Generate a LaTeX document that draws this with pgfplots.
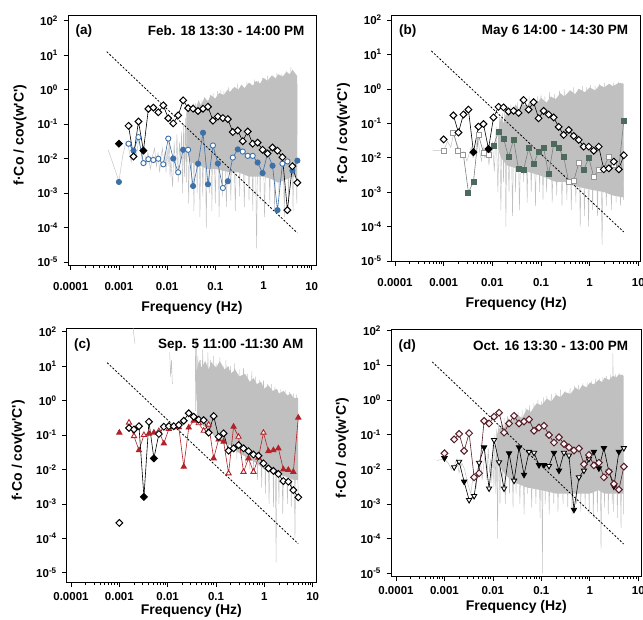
\documentclass[border=0pt]{standalone}
\usepackage{fontspec}
\setmainfont{Liberation Sans}
\newfontfamily\labfont{Liberation Sans}
\usepackage{pgfplots}
\usepackage{pgfplotstable}
\pgfplotsset{compat=1.18}

\definecolor{specgray}{RGB}{192,192,192}
\definecolor{blueA}{RGB}{62,112,168}
\definecolor{greenB}{RGB}{78,106,92}
\definecolor{sqline}{RGB}{120,130,125}
\definecolor{sqopen}{RGB}{150,150,150}
\definecolor{redC}{RGB}{178,34,40}
\definecolor{maroonD}{RGB}{84,30,40}
\definecolor{pinkD}{RGB}{252,244,244}

% square diamond and downward triangle marks
\pgfdeclareplotmark{dia*}{%
  \pgfpathmoveto{\pgfqpoint{0pt}{\pgfplotmarksize}}%
  \pgfpathlineto{\pgfqpoint{\pgfplotmarksize}{0pt}}%
  \pgfpathlineto{\pgfqpoint{0pt}{-\pgfplotmarksize}}%
  \pgfpathlineto{\pgfqpoint{-\pgfplotmarksize}{0pt}}%
  \pgfpathclose\pgfusepathqfillstroke}
\pgfdeclareplotmark{tridown*}{%
  \pgfpathmoveto{\pgfqpoint{0pt}{-\pgfplotmarksize}}%
  \pgfpathlineto{\pgfqpoint{0.866\pgfplotmarksize}{0.5\pgfplotmarksize}}%
  \pgfpathlineto{\pgfqpoint{-0.866\pgfplotmarksize}{0.5\pgfplotmarksize}}%
  \pgfpathclose\pgfusepathqfillstroke}

\pgfplotsset{
  panel/.style={
    scale only axis,
    axis line style={line width=0.8pt},
    tick align=outside, xtick pos=left, ytick pos=left,
    major tick length=4.5pt, minor tick length=2.5pt,
    every tick/.style={black, line width=0.7pt},
    xtick={1e-4,1e-3,1e-2,1e-1,1,10},
    xticklabels={0.0001,0.001,0.01,0.1,1,10},
    minor xtick={2e-4,3e-4,4e-4,5e-4,6e-4,7e-4,8e-4,9e-4,
      2e-3,3e-3,4e-3,5e-3,6e-3,7e-3,8e-3,9e-3,
      0.02,0.03,0.04,0.05,0.06,0.07,0.08,0.09,
      0.2,0.3,0.4,0.5,0.6,0.7,0.8,0.9,2,3,4,5,6,7,8,9},
    ytick={1e-5,1e-4,1e-3,1e-2,1e-1,1,10,100},
    yticklabels={10\textsuperscript{-5},10\textsuperscript{-4},10\textsuperscript{-3},
      10\textsuperscript{-2},10\textsuperscript{-1},10\textsuperscript{0},
      10\textsuperscript{1},10\textsuperscript{2}},
    yminorticks=false,
    ticklabel style={font=\bfseries\fontsize{11.5}{13}\selectfont},
    yticklabel shift=2pt,
    label style={font=\bfseries\fontsize{14}{16}\selectfont},
    xlabel={Frequency (Hz)},
    ylabel={{\labfont f·Co / cov(w'C')}},
    ylabel style={at={(axis description cs:-0.194,0.52)}, anchor=center},
    unbounded coords=jump,
  },
  toprow/.style={xticklabel shift=9pt,
    xlabel style={at={(axis description cs:0.5,-0.172)}, anchor=center}},
  botrow/.style={xticklabel shift=1.5pt,
    xlabel style={at={(axis description cs:0.5,-#1)}, anchor=center}},
  spec/.style={specgray, line width=0.45pt, forget plot},
  specfill/.style={draw=none, fill=specgray, forget plot},
  slope/.style={black, line width=0.8pt, dash pattern=on 2pt off 1.7pt},
  dia/.style={black, line width=0.6pt, mark size=3.4pt, scatter, scatter src=explicit symbolic,
    scatter/classes={o={mark=dia*, fill=white, draw=black, line width=1pt},
                     f={mark=dia*, fill=black, draw=black, line width=1pt}}},
}
\tikzset{ptitle/.style={font=\bfseries\fontsize{13.5}{15}\selectfont}}

% panel (a)
\pgfplotstableread{
f v c
0.001 0.027 f
nan nan o
0.001585 0.089 o
0.002009 0.0115 o
0.002547 0.119 o
0.003228 0.017 f
0.004093 0.277 o
0.005188 0.30 o
0.006577 0.22 o
0.008337 0.35 o
0.01057 0.148 o
0.01340 0.105 o
0.01698 0.18 o
0.02153 0.49 o
0.02729 0.29 o
0.03459 0.28 o
0.04385 0.24 o
0.05559 0.28 o
0.07047 0.32 o
0.08933 0.126 o
0.1132 0.166 o
0.1435 0.15 o
0.1820 0.14 o
0.2307 0.059 o
0.2924 0.065 o
0.3707 0.032 o
0.4699 0.061 o
0.5957 0.027 o
0.7551 0.029 o
0.9572 0.018 o
1.213 0.014 o
1.538 0.021 o
1.950 0.017 o
2.472 0.011 o
3.133 0.00032 o
3.972 0.006 o
5.035 0.002 o
}\aDia
\pgfplotstableread{
f v c
0.001 0.0021 f
nan nan o
0.001585 0.027 o
0.002009 0.017 f
0.002547 0.042 o
0.003228 0.0074 o
0.004093 0.0096 o
0.005188 0.0091 o
0.006577 0.0099 o
0.008337 0.0068 o
0.01057 0.038 o
0.01340 0.010 f
0.01698 0.0040 o
0.02153 0.018 f
0.02729 0.018 o
0.03459 0.0016 f
0.04385 0.0071 f
0.05559 0.056 f
0.07047 0.0018 f
0.08933 0.024 o
0.1132 0.0072 f
0.1435 0.0014 o
0.1820 0.0022 f
0.2307 0.0107 o
0.2924 0.0185 f
0.3707 0.016 o
0.4699 0.012 o
0.5957 0.012 o
0.7551 0.0077 f
0.9572 0.0038 f
1.213 0.014 o
1.538 0.0062 f
1.950 0.00032 f
2.472 0.0071 o
3.133 0.0083 o
3.972 0.0045 f
5.035 0.0087 f
}\aCirc

% panel (b)
\pgfplotstableread{
f v c
0.001 0.034 o
nan nan o
0.001585 0.17 o
0.002009 0.054 o
0.002547 0.18 o
0.003228 0.25 o
0.004093 0.0145 f
0.005188 0.080 o
0.006577 0.095 o
0.008337 0.018 f
0.01057 0.148 o
0.01340 0.30 o
0.01698 0.29 o
0.02153 0.22 o
0.02729 0.23 o
0.03459 0.20 o
0.04385 0.475 o
0.05559 0.25 o
0.07047 0.41 o
0.08933 0.14 o
0.1132 0.23 o
0.1435 0.18 o
0.1820 0.148 o
0.2307 0.079 o
0.2924 0.046 o
0.3707 0.064 o
0.4699 0.043 o
0.5957 0.033 o
0.7551 0.021 o
0.9572 0.021 o
1.213 0.016 o
1.538 0.021 o
1.950 0.0046 o
2.472 0.0049 o
3.133 0.0077 o
3.972 0.0046 o
5.035 0.0118 o
}\bDia
\pgfplotstableread{
f v c
0.001 0.016 o
nan nan o
0.001585 0.054 o
0.002009 0.016 o
0.002547 0.012 o
0.003228 0.00098 f
0.004093 0.0020 f
0.005188 0.046 o
0.006577 0.014 o
0.008337 0.012 o
0.01057 0.0225 f
0.01340 0.057 f
0.01698 0.036 f
0.02153 0.0107 f
0.02729 0.033 f
0.03459 0.0046 f
0.04385 0.0044 f
0.05559 0.0186 f
0.07047 0.0065 f
0.08933 0.015 f
0.1132 0.0195 f
0.1435 0.0033 f
0.1820 0.0245 f
0.2307 0.0186 f
0.2924 0.0107 f
0.3707 0.0020 o
0.4699 0.0021 o
0.5957 0.0069 o
0.7551 0.0044 f
0.9572 0.010 f
1.213 0.0028 o
1.538 0.0045 o
1.950 0.005 o
2.472 0.0107 o
3.133 0.006 o
3.972 0.005 o
5.035 0.117 f
}\bSq

% panel (c)
\pgfplotstableread{
f v c
0.001 0.00028 o
nan nan o
0.001585 0.16 o
0.002009 0.145 o
0.002547 0.18 o
0.003228 0.0016 f
0.004093 0.243 o
0.005188 0.021 f
0.006577 0.107 o
0.008337 0.174 o
0.01057 0.18 o
0.01340 0.18 o
0.01698 0.195 o
0.02153 0.26 o
0.02729 0.43 o
0.03459 0.34 o
0.04385 0.28 o
0.05559 0.27 o
0.07047 0.117 o
0.08933 0.355 o
0.1132 0.089 o
0.1435 0.112 o
0.1820 0.035 o
0.2307 0.041 o
0.2924 0.051 o
0.3707 0.041 o
0.4699 0.034 o
0.5957 0.027 o
0.7551 0.025 o
0.9572 0.015 o
1.213 0.0107 o
1.538 0.0091 o
1.950 0.0074 o
2.472 0.0046 o
3.133 0.0044 o
3.972 0.0025 o
5.035 0.00155 o
}\cDia
\pgfplotstableread{
f v c
0.001 0.117 f
nan nan o
0.001585 0.23 o
0.002009 0.093 o
0.002547 0.036 f
0.003228 0.10 o
0.004093 0.11 f
0.005188 0.117 f
0.006577 0.13 o
0.008337 0.057 f
0.01057 0.15 o
0.01340 0.17 o
0.01698 0.17 o
0.02153 0.012 f
0.02729 0.165 f
0.03459 0.26 f
0.04385 0.22 o
0.05559 0.133 o
0.07047 0.2 o
0.08933 0.021 f
0.1132 0.074 f
0.1435 0.064 f
0.1820 0.0077 o
0.2307 0.174 f
0.2924 0.089 o
0.3707 0.0085 o
0.4699 0.021 f
0.5957 0.0085 o
0.7551 0.022 f
0.9572 0.117 o
1.213 0.034 f
1.538 0.036 f
1.950 0.041 f
2.472 0.010 f
3.133 0.0097 f
3.972 0.0085 f
5.035 0.32 f
}\cTri

% panel (d)
\pgfplotstableread{
f v c
0.001 0.029 o
nan nan o
0.001585 0.073 o
0.002009 0.105 o
0.002547 0.034 o
0.003228 0.11 o
0.004093 0.0059 o
0.005188 0.0077 o
0.006577 0.25 o
0.008337 0.21 o
0.01057 0.33 o
0.01340 0.43 o
0.01698 0.115 o
0.02153 0.21 o
0.02729 0.35 o
0.03459 0.21 o
0.04385 0.24 o
0.05559 0.275 o
0.07047 0.13 o
0.08933 0.16 o
0.1132 0.18 o
0.1435 0.098 o
0.1820 0.059 o
0.2307 0.084 o
0.2924 0.054 o
0.3707 0.043 o
0.4699 0.035 o
0.5957 0.04 o
0.7551 0.014 o
0.9572 0.026 o
1.213 0.013 o
1.538 0.0155 o
1.950 0.0059 o
2.472 0.0086 o
3.133 0.0038 o
3.972 0.0026 o
5.035 0.012 o
}\dDia
\pgfplotstableread{
f v c
0.001 0.021 f
nan nan o
0.001585 0.0115 o
0.002009 0.0166 o
0.002547 0.0044 f
0.003228 0.0013 o
0.004093 0.0017 o
0.005188 0.0155 o
0.006577 0.043 f
0.008337 0.0028 o
0.01057 0.070 o
0.01340 0.016 o
0.01698 0.0028 o
0.02153 0.029 f
0.02729 0.0047 o
0.03459 0.043 f
0.04385 0.007 f
0.05559 0.032 o
0.07047 0.03 o
0.08933 0.0133 f
0.1132 0.0133 f
0.1435 0.0125 o
0.1820 0.030 f
0.2307 0.0092 f
0.2924 0.03 o
0.3707 0.025 o
0.4699 0.00068 f
0.5957 0.0059 o
0.7551 0.0092 o
0.9572 0.02 o
1.213 0.032 f
1.538 0.0107 f
1.950 0.041 f
2.472 0.0086 f
3.133 0.0032 f
3.972 0.032 f
5.035 0.041 o
}\dTri

\begin{document}
\begin{tikzpicture}
\useasboundingbox (0,0) rectangle (643pt,-619pt);

% ---------------- (a)
\begin{loglogaxis}[panel, toprow, at={(68pt,-265pt)}, anchor=south west, width=248pt, height=250pt,
  xmin=8.79e-5, xmax=12.27, ymin=8.18e-6, ymax=146.2]
\addplot[specfill] coordinates {(0.025,0.2)(0.027,0.35)(0.03,0.25)(0.035,0.4)(0.04,0.3)(0.045,0.5)(0.05,0.35)(0.06,0.6)(0.07,0.45)(0.08,0.7)(0.1,0.55)(0.12,0.8)(0.15,0.7)(0.18,1.0)(0.2,0.85)(0.25,1.2)(0.3,1.0)(0.35,1.4)(0.4,1.1)(0.5,1.6)(0.6,1.3)(0.7,1.8)(0.85,1.5)(1,2.2)(1.2,1.8)(1.5,2.6)(1.8,2.1)(2,2.8)(2.5,2.4)(3,3.3)(3.5,2.8)(4,3.8)(4.5,3)(5,2.5)
  (5,0.003)(4,0.003)(3,0.0025)(2,0.002)(1.5,0.0025)(1,0.003)(0.7,0.003)(0.5,0.003)(0.3,0.004)(0.2,0.004)(0.1,0.005)(0.07,0.005)(0.05,0.006)(0.03,0.008)(0.025,0.02)};
\addplot[spec] coordinates {(0.0006,0.018)(0.001,0.0022)(0.0012,0.012)(0.0014,0.03)(0.0016,0.02)(0.0018,0.008)(0.002,0.02)(0.0023,0.012)(0.0026,0.04)(0.003,0.01)(0.0033,0.02)(0.0037,0.007)(0.004,0.015)(0.0045,0.005)(0.005,0.012)(0.0055,0.02)(0.006,0.006)(0.0065,0.015)(0.007,0.004)(0.0075,0.012)(0.008,0.02)(0.0085,0.006)(0.009,0.015)(0.0095,0.004)(0.01,0.02)(0.0105,0.006)(0.011,0.04)(0.0115,0.003)(0.012,0.01)(0.013,0.0015)(0.014,0.03)(0.015,0.004)(0.016,0.05)(0.017,0.002)(0.018,0.03)(0.019,0.008)(0.02,0.06)(0.021,0.001)(0.022,0.1)(0.023,0.003)(0.024,0.15)(0.025,0.002)(0.026,0.25)(0.028,0.0005)(0.03,0.3)(0.032,0.002)(0.034,0.25)(0.036,0.0003)(0.039,0.4)(0.042,0.001)(0.045,0.3)(0.048,0.0002)(0.051,0.5)(0.055,0.0008)(0.06,0.6)(0.065,0.0001)(0.07,0.5)(0.075,0.001)(0.08,0.7)(0.085,0.0003)(0.09,0.8)(0.1,0.0005)(0.11,0.9)(0.12,0.0002)(0.13,1.0)(0.14,0.0008)(0.15,0.9)(0.17,0.0004)(0.19,1.2)(0.21,0.0006)(0.23,1.1)(0.26,0.0003)(0.29,1.5)(0.32,0.0008)(0.35,1.3)(0.4,0.0004)(0.45,1.7)(0.5,0.0006)(0.55,1.5)(0.6,0.0003)(0.65,2.0)(0.72,0.000025)(0.78,1.8)(0.85,0.0006)(0.95,2.2)(1.05,0.0002)(1.2,2.5)(1.35,0.0005)(1.5,2.2)(1.7,0.0003)(1.9,3.0)(2.1,0.0008)(2.4,2.8)(2.7,0.0002)(3.0,3.5)(3.3,0.0005)(3.7,4.5)(4.1,0.0003)(4.5,3.0)(4.9,0.0005)(5.0,1.5)};
\addplot[slope] coordinates {(5.6e-4,12.6)(5.0,7e-5)};
\addplot[blueA, line width=0.6pt, mark size=2.6pt, scatter, scatter src=explicit symbolic,
  scatter/classes={o={mark=*, fill=white, draw=blueA, line width=0.9pt},
                   f={mark=*, fill=blueA, draw=blueA, line width=0.9pt}}]
  table[x=f, y=v, meta=c] {\aCirc};
\addplot[dia] table[x=f, y=v, meta=c] {\aDia};
\node[ptitle, anchor=west, xshift=4pt, yshift=-16pt] at (rel axis cs:0,1) {(a)};
\node[ptitle, anchor=east, xshift=-8pt, yshift=-16pt] at (rel axis cs:1,1) {Feb. 18 13:30 - 14:00 PM};
\end{loglogaxis}

% ---------------- (b)
\begin{loglogaxis}[panel, toprow, at={(391.7pt,-261.7pt)}, anchor=south west, width=249pt, height=246.7pt,
  xmin=8.55e-5, xmax=11.19, ymin=9.55e-6, ymax=139.6]
\addplot[specfill] coordinates {(0.013,0.05)(0.015,0.15)(0.017,0.1)(0.02,0.25)(0.025,0.2)(0.03,0.35)(0.035,0.25)(0.04,0.4)(0.05,0.3)(0.06,0.45)(0.08,0.35)(0.1,0.55)(0.13,0.4)(0.16,0.6)(0.2,0.5)(0.25,0.75)(0.3,0.6)(0.4,0.9)(0.5,0.7)(0.6,1.0)(0.8,0.8)(1,1.1)(1.3,0.9)(1.6,1.3)(2,1.1)(2.5,1.4)(3,1.2)(4,1.5)(5,1.4)
  (5,0.0007)(3,0.0008)(2,0.001)(1,0.0012)(0.5,0.0015)(0.3,0.002)(0.2,0.002)(0.1,0.003)(0.05,0.004)(0.03,0.005)(0.02,0.006)(0.015,0.01)(0.013,0.02)};
\addplot[spec] coordinates {(0.0006,0.016)(0.001,0.016)(0.0012,0.03)(0.0014,0.02)(0.0016,0.05)(0.0018,0.03)(0.002,0.02)(0.0023,0.01)(0.0026,0.015)(0.003,0.008)(0.0033,0.012)(0.0037,0.02)(0.004,0.01)(0.0045,0.015)(0.005,0.04)(0.0055,0.015)(0.006,0.008)(0.0065,0.02)(0.007,0.01)(0.0075,0.012)(0.008,0.02)(0.0085,0.006)(0.009,0.015)(0.0095,0.01)(0.01,0.03)(0.011,0.004)(0.012,0.08)(0.013,0.001)(0.014,0.15)(0.015,0.0003)(0.016,0.2)(0.017,0.002)(0.018,0.25)(0.019,0.0001)(0.02,0.3)(0.022,0.001)(0.024,0.35)(0.026,0.0002)(0.028,0.3)(0.03,0.001)(0.033,0.4)(0.036,0.0003)(0.04,0.5)(0.044,0.002)(0.048,0.4)(0.052,0.0005)(0.057,0.6)(0.063,0.001)(0.07,0.5)(0.077,0.0004)(0.085,0.6)(0.094,0.001)(0.1,0.7)(0.11,0.0006)(0.12,0.6)(0.13,0.001)(0.15,0.8)(0.17,0.0005)(0.19,0.7)(0.21,0.0008)(0.24,0.9)(0.27,0.0004)(0.3,1.0)(0.34,0.0006)(0.38,0.9)(0.42,0.0003)(0.47,1.1)(0.52,0.0005)(0.58,1.0)(0.64,0.0001)(0.71,1.2)(0.78,0.0002)(0.86,1.1)(0.95,0.0001)(1.05,1.3)(1.15,0.0003)(1.3,1.2)(1.45,0.0002)(1.6,1.4)(1.8,0.00003)(2.0,1.5)(2.2,0.0004)(2.5,1.4)(2.8,0.0003)(3.1,1.5)(3.5,0.0005)(3.9,1.6)(4.3,0.0004)(4.7,1.5)(5.0,0.0006)};
\addplot[slope] coordinates {(5.6e-4,12.6)(5.0,7e-5)};
\addplot[sqline, line width=0.6pt, mark size=2.5pt, scatter, scatter src=explicit symbolic,
  scatter/classes={o={mark=square*, fill=white, draw=sqopen, line width=0.9pt},
                   f={mark=square*, fill=greenB, draw=greenB, line width=0.9pt}}]
  table[x=f, y=v, meta=c] {\bSq};
\addplot[dia] table[x=f, y=v, meta=c] {\bDia};
\node[ptitle, anchor=west, xshift=4pt, yshift=-16pt] at (rel axis cs:0,1) {(b)};
\node[ptitle, anchor=east, xshift=-9pt, yshift=-16pt] at (rel axis cs:1,1) {May 6 14:00 - 14:30 PM};
\end{loglogaxis}

% ---------------- (c)
\begin{loglogaxis}[panel, botrow=0.11, at={(66.7pt,-582.7pt)}, anchor=south west, width=249.3pt, height=254.4pt,
  xmin=8.15e-5, xmax=11.70, ymin=5.13e-6, ymax=125.6]
\addplot[specfill] coordinates {(0.04,8)(0.045,15)(0.05,9)(0.06,14)(0.07,8)(0.08,13)(0.1,9)(0.12,14)(0.15,8)(0.18,10)(0.2,6)(0.25,8)(0.3,5)(0.4,6)(0.5,3.5)(0.6,4.5)(0.7,3)(0.85,3.5)(1,2.2)(1.2,2.8)(1.5,1.9)(1.8,2.2)(2,1.6)(2.5,1.9)(3,1.4)(3.5,1.6)(4,1.2)(5,1.2)
  (5,0.005)(4,0.005)(3,0.006)(2,0.007)(1.5,0.008)(1,0.01)(0.7,0.015)(0.5,0.02)(0.3,0.03)(0.2,0.05)(0.1,0.08)(0.07,0.15)(0.05,0.2)(0.04,0.4)};
\addplot[spec] coordinates {(0.0019,150)(0.0021,45)(0.003,nan)(0.011,25)(0.0115,5)(0.012,15)(0.0125,3)(0.013,nan)(0.037,60)(0.038,0.5)(0.039,70)(0.04,1)(0.042,20)(0.045,0.3)(0.048,15)(0.05,0.5)(0.053,30)(0.056,0.2)(0.06,12)(0.064,0.3)(0.068,25)(0.072,0.2)(0.077,15)(0.082,0.15)(0.088,20)(0.094,0.1)(0.1,12)(0.11,0.1)(0.12,18)(0.13,0.07)(0.14,10)(0.15,0.05)(0.16,15)(0.18,0.03)(0.2,10)(0.22,0.04)(0.24,12)(0.27,0.02)(0.3,8)(0.33,0.03)(0.37,9)(0.41,0.015)(0.45,6)(0.5,0.01)(0.55,7)(0.6,0.008)(0.66,5)(0.72,0.005)(0.8,4)(0.88,0.003)(0.96,4)(1.05,0.002)(1.15,3)(1.25,0.001)(1.4,3)(1.55,0.0008)(1.65,2.5)(1.75,0.00002)(1.85,2)(2.0,0.001)(2.2,2.2)(2.4,0.0005)(2.7,2)(3.0,0.001)(3.3,1.8)(3.6,0.0008)(4.0,1.6)(4.3,0.0001)(4.6,1.5)(5.0,0.002)};
\addplot[slope] coordinates {(5.6e-4,12.6)(5.0,7e-5)};
\addplot[redC, line width=0.6pt, mark size=3pt, scatter, scatter src=explicit symbolic,
  scatter/classes={o={mark=triangle*, fill=white, draw=redC, line width=0.9pt},
                   f={mark=triangle*, fill=redC, draw=redC, line width=0.9pt}}]
  table[x=f, y=v, meta=c] {\cTri};
\addplot[dia] table[x=f, y=v, meta=c] {\cDia};
\node[ptitle, anchor=west, xshift=4pt, yshift=-17pt] at (rel axis cs:0,1) {(c)};
\node[ptitle, anchor=east, xshift=-9pt, yshift=-17pt] at (rel axis cs:1,1) {Sep. 5 11:00 -11:30 AM};
\end{loglogaxis}

% ---------------- (d)
\begin{loglogaxis}[panel, botrow=0.12, at={(391pt,-576.7pt)}, anchor=south west, width=250.7pt, height=247.4pt,
  xmin=7.89e-5, xmax=11.75, ymin=7.98e-6, ymax=109.6]
\addplot[specfill] coordinates {(0.012,0.1)(0.015,0.2)(0.017,0.15)(0.02,0.3)(0.025,0.25)(0.03,0.4)(0.04,0.3)(0.05,0.55)(0.06,0.45)(0.08,0.8)(0.1,0.7)(0.13,1.1)(0.16,0.9)(0.2,1.4)(0.25,1.2)(0.3,1.7)(0.4,1.5)(0.5,2.3)(0.6,1.9)(0.7,2.7)(0.85,2.3)(1,3.2)(1.2,2.8)(1.5,3.8)(1.8,3.3)(2,4.4)(2.5,3.8)(3,5)(3.5,4.5)(4,5.5)(5,5)
  (5,0.002)(4,0.002)(3,0.002)(2,0.002)(1.5,0.0025)(1,0.002)(0.7,0.002)(0.5,0.002)(0.3,0.002)(0.2,0.002)(0.1,0.0025)(0.05,0.003)(0.03,0.004)(0.02,0.006)(0.015,0.01)(0.012,0.03)};
\addplot[spec] coordinates {(0.0007,0.018)(0.001,0.02)(0.0012,0.015)(0.0014,0.01)(0.0016,0.013)(0.0018,0.02)(0.002,0.008)(0.0023,0.015)(0.0026,0.01)(0.003,0.004)(0.0035,0.002)(0.004,0.008)(0.0045,0.003)(0.005,0.01)(0.0055,0.02)(0.006,0.005)(0.0065,0.015)(0.007,0.03)(0.0075,0.005)(0.008,0.04)(0.0085,0.008)(0.009,0.02)(0.0095,0.004)(0.01,0.05)(0.0105,0.003)(0.011,0.1)(0.0115,0.002)(0.012,0.15)(0.0125,0.0001)(0.013,0.2)(0.014,0.001)(0.015,0.25)(0.016,0.003)(0.017,0.3)(0.018,0.001)(0.02,0.35)(0.022,0.002)(0.024,0.3)(0.026,0.0008)(0.028,0.4)(0.03,0.002)(0.033,0.45)(0.036,0.001)(0.04,0.5)(0.044,0.0005)(0.048,0.6)(0.052,0.002)(0.057,0.7)(0.063,0.0008)(0.07,0.8)(0.077,0.001)(0.085,1.0)(0.094,0.0004)(0.1,0.9)(0.105,0.00001)(0.11,1.2)(0.12,0.001)(0.13,1.3)(0.145,0.0005)(0.16,1.5)(0.18,0.001)(0.2,1.6)(0.22,0.0006)(0.25,2.0)(0.28,0.001)(0.31,1.8)(0.35,0.0008)(0.39,2.2)(0.43,0.0005)(0.48,2.5)(0.53,0.001)(0.59,2.8)(0.65,0.0006)(0.72,3.0)(0.8,0.0008)(0.88,3.2)(0.97,0.0005)(1.07,3.5)(1.18,0.0004)(1.3,4.0)(1.43,0.0006)(1.6,4.2)(1.7,0.00005)(1.85,4.5)(2.0,0.0008)(2.2,5.0)(2.4,0.0005)(2.7,5.5)(2.9,0.001)(3.0,22)(3.1,0.0006)(3.4,5.5)(3.7,0.0004)(4.0,6)(4.4,0.0002)(4.7,5.5)(5.0,0.0005)};
\addplot[slope] coordinates {(5.6e-4,12.6)(5.0,7e-5)};
\addplot[black, line width=0.6pt, mark size=3pt, scatter, scatter src=explicit symbolic,
  scatter/classes={o={mark=tridown*, fill=white, draw=black, line width=0.9pt},
                   f={mark=tridown*, fill=black, draw=black, line width=0.9pt}}]
  table[x=f, y=v, meta=c] {\dTri};
\addplot[maroonD, line width=0.6pt, mark size=3.4pt, scatter, scatter src=explicit symbolic,
  scatter/classes={o={mark=dia*, fill=pinkD, draw=maroonD, line width=1pt}}]
  table[x=f, y=v, meta=c] {\dDia};
\node[ptitle, anchor=west, xshift=4pt, yshift=-17pt] at (rel axis cs:0,1) {(d)};
\node[ptitle, anchor=east, xshift=-10pt, yshift=-17pt] at (rel axis cs:1,1) {Oct. 16 13:30 - 13:00 PM};
\end{loglogaxis}
\end{tikzpicture}
\end{document}
